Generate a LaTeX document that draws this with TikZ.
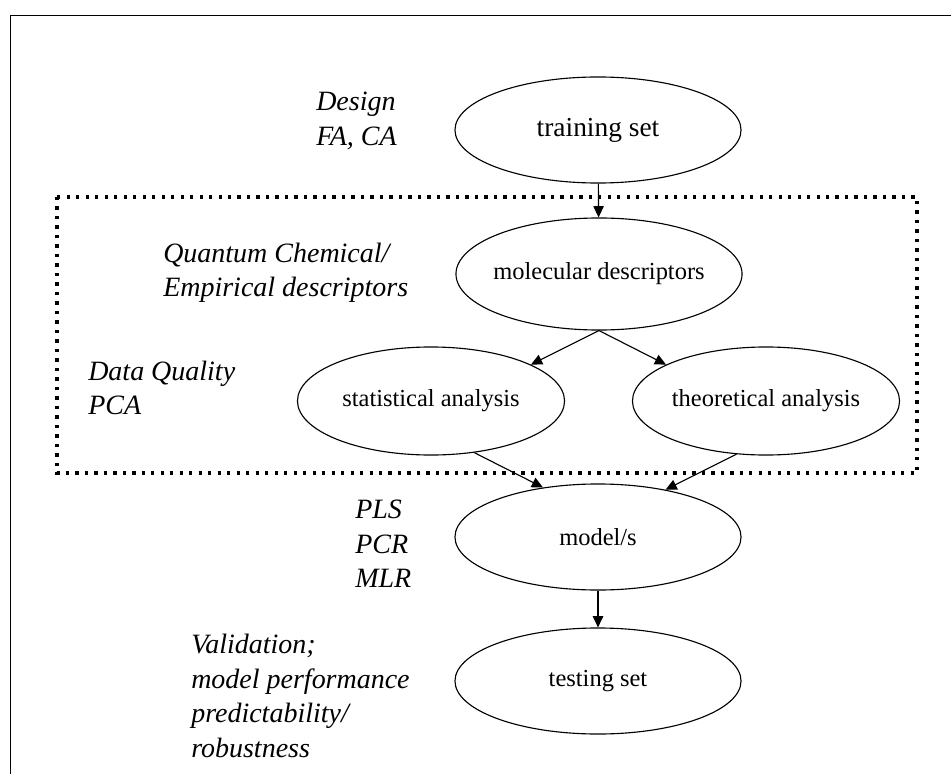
\documentclass[tikz,border=0pt]{standalone}
\usepackage{fontspec}
\setmainfont{Liberation Serif}
\usetikzlibrary{shapes.geometric,arrows.meta}

\begin{document}
\begin{tikzpicture}[
    x=0.025cm, y=-0.025cm,
    stage/.style={ellipse, draw, line width=0.8pt, inner xsep=-3mm, inner ysep=0pt, minimum width=7.15cm, minimum height=2.65cm, font=\fontsize{17.4}{21}\selectfont},
    note/.style={anchor=west, align=left, inner sep=0pt, font=\fontsize{19.9}{24.5}\selectfont\itshape},
    arrow/.style={-{Triangle[length=2.8mm, width=2.6mm]}, line width=0.8pt},
    dotbox/.style={line width=2.35pt, dash pattern=on 2.35pt off 4.4pt}
]
    \useasboundingbox (0,0) rectangle (951,774);
    \draw[line width=0.6pt] (951,15) -- (10,15) -- (10,774);
    \draw[dotbox] (57,197) rectangle (917,473);

    \node[stage, font=\fontsize{19.5}{23}\selectfont] (train) at (598,130) {training set};
    \node[stage, minimum height=2.8cm] (mol) at (599,274) {molecular descriptors};
    \node[stage, minimum width=6.675cm, minimum height=2.7cm] (stat) at (431,401) {statistical analysis};
    \node[stage, minimum width=6.675cm, minimum height=2.7cm] (theo) at (766,401) {theoretical analysis};
    \node[stage] (model) at (598,537) {model/s};
    \node[stage] (test) at (598,681) {testing set};

    \node[note] (design) at (316,121) {Design\\FA, CA};
    \node[note] (quantum) at (163,273) {Quantum Chemical/\\Empirical descriptors};
    \node[note] (quality) at (88,388) {Data Quality\\PCA};
    \node[note] (methods) at (355,544) {PLS\\PCR\\MLR};
    \node[note] (valid) at (191,696) {Validation;\\model performance\\predictability/\\robustness};

    \draw[arrow] (train) -- (mol);
    \draw[arrow] (mol.south) -- (stat.20);
    \draw[arrow] (mol.south) -- (theo.160);
    \draw[arrow] (stat.-50) -- (model.138);
    \draw[arrow] (theo.241) -- (model.35);
    \draw[arrow] (model) -- (test);
\end{tikzpicture}
\end{document}
